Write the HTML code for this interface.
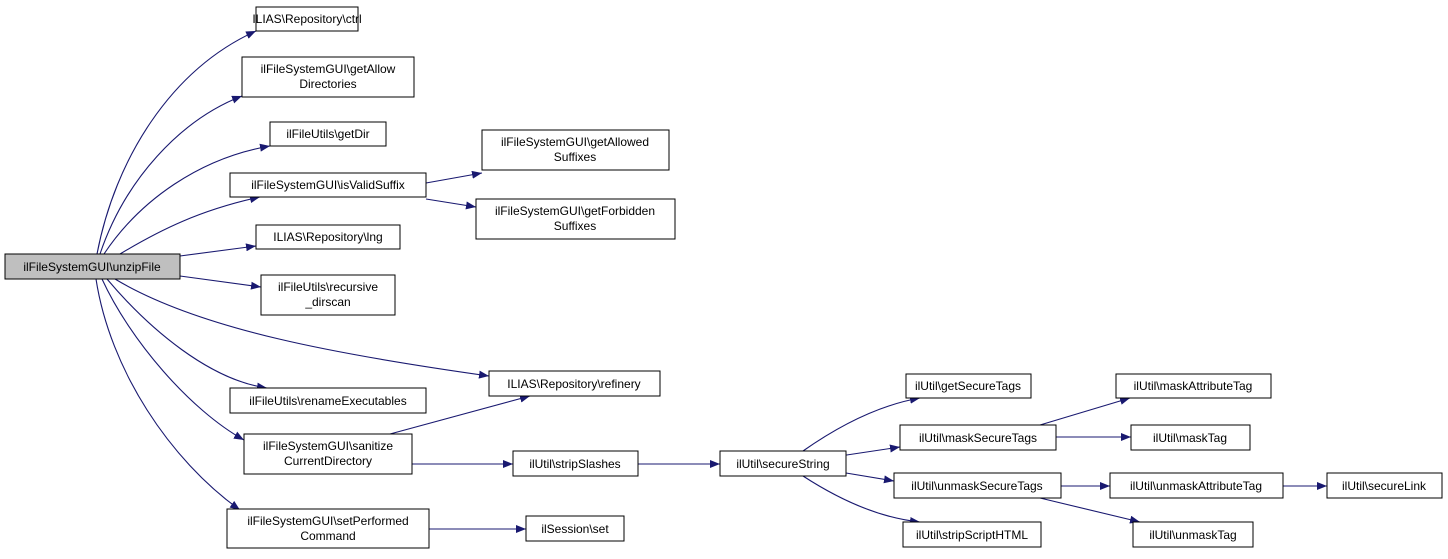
<!DOCTYPE html>
<html><head><meta charset="utf-8"><style>
html,body{margin:0;padding:0;background:#fff;}
svg{display:block;}
text{font-family:"Liberation Sans",sans-serif;font-size:12px;fill:#000;}
</style></head><body>
<svg width="1448" height="559" viewBox="0 0 1448 559" xmlns="http://www.w3.org/2000/svg">
<defs>
<marker id="a" viewBox="0 0 10 8" refX="10" refY="4" markerWidth="10" markerHeight="8" markerUnits="userSpaceOnUse" orient="auto">
<path d="M0,0 L10,4 L0,8 Z" fill="#191970"/>
</marker>
</defs>
<g fill="none" stroke="#191970" stroke-width="1.1" marker-end="url(#a)">
<path d="M97,254 C115,160 170,70 256,31"/>
<path d="M100,254 C125,180 180,120 242,96"/>
<path d="M104,254 C140,200 200,158 270,146"/>
<path d="M120,254 C160,230 200,210 260,197"/>
<path d="M180,256 L256,246"/>
<path d="M180,276 L261,287"/>
<path d="M115,279 C200,330 340,355 489,376"/>
<path d="M107,279 C150,330 210,380 267,388"/>
<path d="M102,279 C130,340 190,410 244,440"/>
<path d="M96,279 C110,370 170,460 240,510"/>
<path d="M426,183 L482,173"/>
<path d="M426,199 L476,207"/>
<path d="M390,434 L530,396"/>
<path d="M412,464 L513,464"/>
<path d="M638,464 L720,464"/>
<path d="M429,529 L526,529"/>
<path d="M803,451 C840,425 880,405 920,398"/>
<path d="M840,456 L900,447"/>
<path d="M840,472 L894,481"/>
<path d="M803,476 C840,500 880,518 920,522"/>
<path d="M1040,425 L1130,398"/>
<path d="M1056,437 L1131,437"/>
<path d="M1061,486 L1110,486"/>
<path d="M1040,498 L1140,522"/>
<path d="M1283,486 L1327,486"/>
</g>
<g stroke="#000" stroke-width="1" fill="#fff">
<rect x="5" y="254" width="175" height="25" fill="#bfbfbf"/>
<rect x="256" y="7" width="102" height="24"/>
<rect x="242" y="57" width="172" height="40"/>
<rect x="270" y="122" width="116" height="24"/>
<rect x="230" y="173" width="196" height="24"/>
<rect x="482" y="130" width="187" height="40"/>
<rect x="476" y="199" width="199" height="40"/>
<rect x="256" y="225" width="144" height="24"/>
<rect x="261" y="275" width="134" height="40"/>
<rect x="489" y="371" width="171" height="25"/>
<rect x="230" y="388" width="196" height="25"/>
<rect x="244" y="434" width="168" height="40"/>
<rect x="513" y="451" width="125" height="25"/>
<rect x="227" y="509" width="202" height="39"/>
<rect x="526" y="516" width="98" height="25"/>
<rect x="720" y="451" width="126" height="25"/>
<rect x="906" y="374" width="125" height="24"/>
<rect x="900" y="425" width="156" height="25"/>
<rect x="894" y="473" width="167" height="25"/>
<rect x="903" y="522" width="138" height="25"/>
<rect x="1116" y="374" width="155" height="24"/>
<rect x="1131" y="425" width="119" height="25"/>
<rect x="1110" y="473" width="173" height="25"/>
<rect x="1133" y="522" width="120" height="25"/>
<rect x="1327" y="473" width="115" height="25"/>
</g>
<g text-anchor="middle">
<text x="92" y="271">ilFileSystemGUI\unzipFile</text>
<text x="307" y="23">ILIAS\Repository\ctrl</text>
<text x="328" y="73">ilFileSystemGUI\getAllow</text><text x="328" y="88">Directories</text>
<text x="328" y="138">ilFileUtils\getDir</text>
<text x="328" y="189">ilFileSystemGUI\isValidSuffix</text>
<text x="575" y="146">ilFileSystemGUI\getAllowed</text><text x="575" y="161">Suffixes</text>
<text x="575" y="215">ilFileSystemGUI\getForbidden</text><text x="575" y="230">Suffixes</text>
<text x="328" y="241">ILIAS\Repository\lng</text>
<text x="328" y="291">ilFileUtils\recursive</text><text x="328" y="306">_dirscan</text>
<text x="574" y="388">ILIAS\Repository\refinery</text>
<text x="328" y="405">ilFileUtils\renameExecutables</text>
<text x="328" y="450">ilFileSystemGUI\sanitize</text><text x="328" y="465">CurrentDirectory</text>
<text x="575" y="468">ilUtil\stripSlashes</text>
<text x="328" y="525">ilFileSystemGUI\setPerformed</text><text x="328" y="540">Command</text>
<text x="575" y="533">ilSession\set</text>
<text x="783" y="468">ilUtil\secureString</text>
<text x="968" y="390">ilUtil\getSecureTags</text>
<text x="978" y="442">ilUtil\maskSecureTags</text>
<text x="977" y="490">ilUtil\unmaskSecureTags</text>
<text x="972" y="539">ilUtil\stripScriptHTML</text>
<text x="1193" y="390">ilUtil\maskAttributeTag</text>
<text x="1190" y="442">ilUtil\maskTag</text>
<text x="1196" y="490">ilUtil\unmaskAttributeTag</text>
<text x="1193" y="539">ilUtil\unmaskTag</text>
<text x="1384" y="490">ilUtil\secureLink</text>
</g>
</svg>
</body></html>
